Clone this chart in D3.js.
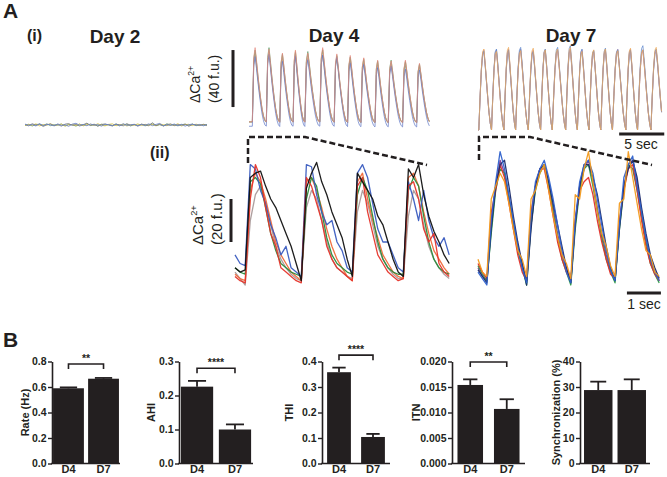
<!DOCTYPE html>
<html><head><meta charset="utf-8">
<script src="https://cdn.jsdelivr.net/npm/d3@7"></script>
<style>
body{margin:0;background:#fff}
svg{display:block;font-family:Arial,"Liberation Sans",Helvetica,sans-serif}
</style>
</head><body>
<svg id="fig" width="667" height="477"></svg>
<script>
// ================= DATA =================
// ---- Panel A(i): Day 2 noise traces (f.u., around baseline) ----
const day2Gray   = [0.3,-0.6,0.9,-0.2,0.5,-1.0,0.2,0.7,-0.4,0.3,-0.8,0.6,1.0,-0.3,0.4,-0.7,0.2,1.3,-0.3,0.6,-0.9,0.3,0.8,-0.1,-0.7,0.5,0.2,-0.6,0.9,-0.2,0.3,-0.8,0.6,0.1,-0.5,1.6,-0.4,0.5,-0.7,0.2,0.8,-0.5,0.3,-0.2,0.7,-0.9,0.4,0.1,-0.4,0.5,-0.2];
const day2Yellow = [-0.4,0.5,-0.2,0.8,-0.6,0.3,-0.1,0.9,-0.5,0.2,0.6,-0.8,0.1,0.4,-0.3,0.7,-0.6,0.2,0.5,-0.4,0.9,-0.2,-0.6,0.4,0.8,-0.5,0.1,0.6,-0.7,0.3,-0.2,0.8,-0.4,0.5,-0.1,0.3,-0.6,0.7,0.2,-0.5,0.4,-0.3,0.9,-0.7,0.2,0.5,-0.4,0.6,-0.2,0.3,-0.5];
const day2Blue   = [0.6,-0.2,0.3,-0.7,0.9,-0.4,0.5,0.1,-0.6,0.8,-0.3,0.2,-0.9,0.6,1.2,-0.2,0.4,-0.5,0.7,-0.1,0.3,-0.8,0.5,0.2,-0.4,0.6,-0.7,0.9,-0.3,0.1,0.5,-0.6,0.3,-0.2,0.8,-0.5,0.4,1.1,-0.6,0.2,-0.3,0.7,-0.4,0.5,-0.8,0.3,0.6,-0.2,0.4,-0.6,0.2];
const day2Green  = [-0.2,0.4,-0.7,0.3,0.6,-0.3,0.8,-0.5,0.2,-0.1,0.7,-0.6,0.4,0.2,-0.8,0.5,-0.2,0.9,-0.4,0.3,-0.6,0.6,-0.1,0.4,-0.5,0.8,-0.3,0.2,0.6,-0.7,0.4,-0.2,0.5,-0.6,0.3,0.7,-0.4,0.2,-0.5,0.9,-0.2,0.4,-0.6,0.3,0.5,-0.3,0.7,-0.5,0.2,-0.1,0.4];
const day2Duration = 20.2; // sec

// ---- Panel A(i): Day 4 & Day 7 long recordings ----
const day4Onsets = [0.37,1.92,3.41,4.89,6.19,7.85,9.44,10.93,12.41,13.97,15.44,17.03,18.59]; // sec
const day7Onsets = [0.09,1.50,2.87,4.17,5.58,6.94,8.24,9.72,11.02,12.31,13.61,14.91,16.39,17.69,19.17];
const longDuration = 20.4; // sec
const day4BeatShape = [3,48,55,46,36,27,19,12,7,4];   // f.u. across one beat
const day7BeatShape = [0,24,44,56,58,48,36,24,13,5];
const day4AmpRed    = [1.0,0.98,0.93,0.96,0.93,1.0,0.92,0.9,0.87,0.84,0.83,0.84,0.8];
const day4AmpBlue   = [0.94,0.97,0.88,0.95,0.9,0.96,0.93,0.86,0.84,0.8,0.82,0.78,0.77];
const day4AmpGreen  = [0.97,1.0,0.92,0.94,0.95,0.97,0.9,0.88,0.85,0.83,0.84,0.82,0.79];
const day4AmpGray   = [0.9,0.92,0.86,0.88,0.87,0.9,0.86,0.83,0.8,0.78,0.78,0.77,0.75];
const day4AmpOrange = [0.96,0.95,0.9,0.97,0.92,0.98,0.89,0.87,0.86,0.82,0.8,0.83,0.78];
const day7AmpOrange = [0.98,0.95,1.0,0.96,0.99,0.97,0.98,1.0,0.95,0.97,0.98,0.96,0.99,0.97,1.0];
const day7AmpBlue   = [0.96,0.98,0.97,1.0,0.95,0.98,1.0,1.02,0.98,0.96,0.99,0.97,0.97,1.02,0.98];
const day7AmpGray   = [0.95,0.96,0.94,0.97,0.96,0.95,0.97,0.96,0.94,0.96,0.95,0.96,0.95,0.96,0.95];
const day7AmpPink   = [0.97,0.94,0.98,0.95,0.97,0.96,0.95,0.98,0.97,0.94,0.97,0.95,0.98,0.95,0.97];
const day7AmpPurple = [0.94,0.97,0.96,0.98,0.94,0.97,0.96,0.97,0.96,0.95,0.96,0.98,0.96,0.97,0.96];

// ---- Panel A(ii): zoomed traces (f.u.), sampled every 0.15 s (Day 4) and 0.13 s (Day 7) ----
const day4Step = 0.15, day7Step = 0.13;
const day4Black  = [8,6,7, 50,52,53,46,40,36,30,24,18,10,2, 45,52,57,48,42,34,28,22,12,4, 52,48,44,40,32,28,20,12,6,4, 54,50,56,42,32,25,20,14,10];
const day4Blue   = [14,10,9, 56,54,44,38,28,22,14,18,8,6,4, 56,55,42,34,28,30,20,16,8,6, 52,56,50,38,26,20,20,14,8,6, 48,40,30,44,30,22,18,22,14];
const day4Red    = [4,2,1, 40,56,50,36,24,18,8,6,4,2,1, 50,46,38,30,18,12,8,6,4,2, 46,50,34,24,14,10,6,4,2,3, 46,48,40,26,20,24,10,6,4];
const day4Green  = [8,6,5, 48,50,47,36,24,16,10,8,6,5,4, 40,50,46,34,22,14,10,8,6,5, 42,50,44,32,20,12,8,6,5,5, 44,50,46,32,20,12,8,6,5];
const day4Gray   = [6,3,0, 30,42,46,38,28,18,12,8,5,3,2, 36,44,40,30,20,12,8,6,4,3, 34,44,38,28,18,12,8,5,3,3, 32,44,40,28,18,12,8,5,3];
const day4Orange = [5,3,2, 44,52,48,40,30,20,14,10,6,4,2, 48,50,44,36,26,18,12,8,4,2, 48,52,40,30,22,14,10,6,4,3, 50,52,46,34,24,16,12,8,5];
const day7Orange = [12,6, 4,40,46,52,48,38,26,16,12, 4,40,44,52,56,44,32,22,14,10, 3,42,40,54,62,48,34,24,18,9, 4,38,40,62,50,38,26,16,14,6, 4];
const day7Blue   = [6,3, 0,30,48,62,54,42,30,18,8, 1,32,48,54,58,50,40,28,16,6, 1,30,48,56,58,52,40,28,16,7, 2,28,50,56,60,46,34,22,12,6, 2];
const day7Navy   = [7,4, 1,26,46,56,58,46,32,20,10, 0,26,46,54,56,48,38,28,18,8, 1,28,46,56,56,50,42,30,18,8, 2,26,46,54,58,50,36,24,14,8, 3];
const day7Green  = [9,5, 2,24,44,54,52,40,28,16,8, 0,28,44,52,56,46,34,22,12,6, 0,26,44,54,56,46,34,22,12,6, 1,26,44,56,54,44,32,20,10,5, 1];
const day7Red    = [10,6, 3,34,44,56,50,38,26,14,6, 2,34,46,54,54,44,32,20,12,6, 2,30,44,48,50,42,30,20,12,5, 3,30,44,54,56,44,30,18,10,5, 2];
const day7Purple = [8,4, 2,28,46,58,52,40,30,18,10, 2,28,46,54,56,48,36,24,14,8, 2,30,46,54,58,48,36,24,14,7, 2,28,46,56,58,48,34,22,12,6, 2];

// ---- Panel B: bar charts (mean, SEM) ----
const barCategories = ["D4","D7"];
const rateMean = [0.59, 0.665],   rateSEM = [0.007, 0.006];
const ahiMean  = [0.226, 0.100],  ahiSEM  = [0.017, 0.015];
const thiMean  = [0.358, 0.104],  thiSEM  = [0.018, 0.012];
const itnMean  = [0.0154, 0.0107],itnSEM  = [0.0011, 0.0019];
const syncMean = [28.8, 28.8],    syncSEM = [3.3, 4.2];
const rateTicks = [0,0.2,0.4,0.6,0.8];
const ahiTicks  = [0,0.1,0.2,0.3];
const thiTicks  = [0,0.1,0.2,0.3,0.4];
const itnTicks  = [0,0.005,0.010,0.015,0.020];
const syncTicks = [0,10,20,30,40];
const yTitles = ["Rate (Hz)","AHI","THI","ITN","Synchronization (%)"];
const sigStars  = ["**","****","****","**",null];
const sigLevels = [0.78, 0.28, 0.425, 0.0199, null];

// ================= DRAWING =================
const svg = d3.select("#fig");
const ink = "#231f20";

function beatTrace(onsets, end, shape, amps, base){
  const pts = [[0, shape[0]*amps[0] + base]];
  onsets.forEach((t0,b)=>{
    const period = b < onsets.length-1 ? onsets[b+1]-t0 : t0-onsets[b-1];
    shape.forEach((v,j)=>{
      const t = t0 + j*period/shape.length;
      if (t <= end) pts.push([t, v*amps[b] + base]);
    });
  });
  return pts;
}
function drawLine(pts, xs, ys, color, w, op){
  svg.append("path").datum(pts)
    .attr("d", d3.line().x(d=>xs(d[0])).y(d=>ys(d[1])))
    .attr("fill","none").attr("stroke",color).attr("stroke-width",w)
    .attr("stroke-opacity",op).attr("stroke-linejoin","round");
}
function text(x,y,str,size,weight,anchor){
  return svg.append("text").attr("x",x).attr("y",y).text(str)
    .attr("font-size",size).attr("font-weight",weight||"normal")
    .attr("text-anchor",anchor||"start").attr("fill",ink);
}

// Panel labels
text(3,18,"A",21,"bold");
text(27,41,"(i)",16,"bold");
text(150,158,"(ii)",16,"bold");
text(115,43,"Day 2",19,"bold","middle");
text(334,42,"Day 4",19,"bold","middle");
text(571,42,"Day 7",19,"bold","middle");
text(3,347,"B",21,"bold");

// --- (i) scales ---
const xDay2 = d3.scaleLinear().domain([0, day2Duration]).range([25, 207]);
const yI = base => d3.scaleLinear().domain([0, 40]).range([base, base-57]);
const yDay2 = yI(125);
[[day2Green,"#6f9f70"],[day2Yellow,"#d6bf3c"],[day2Gray,"#7e7e7e"],[day2Blue,"#6a82c8"]].forEach(([arr,c])=>{
  const pts = arr.map((v,i)=>[i*day2Duration/(arr.length-1), v]);
  drawLine(pts, xDay2, yDay2, c, 1, 0.85);
});

const xD4i = d3.scaleLinear().domain([0, longDuration]).range([249, 433]);
const yD4i = yI(126);
[[day4AmpGray,"#a89e9e",0],[day4AmpOrange,"#e2ad86",0],[day4AmpGreen,"#5e9a66",0],[day4AmpBlue,"#6078c6",-3],[day4AmpRed,"#e48a80",0]].forEach(([amps,c,b])=>{
  drawLine(beatTrace(day4Onsets,longDuration,day4BeatShape,amps,b), xD4i, yD4i, c, 0.9, 0.8);
});
const xD7i = d3.scaleLinear().domain([0, longDuration]).range([478, 662]);
const yD7i = yI(130);
[[day7AmpGray,"#9a9a9a"],[day7AmpPurple,"#a088b4"],[day7AmpPink,"#dc9aa8"],[day7AmpBlue,"#5a84cc"],[day7AmpOrange,"#eeaa58"]].forEach(([amps,c])=>{
  drawLine(beatTrace(day7Onsets,longDuration,day7BeatShape,amps,0), xD7i, yD7i, c, 0.9, 0.8);
});

// 40 f.u. scale bar and label
svg.append("line").attr("x1",233).attr("x2",233).attr("y1",yD4i(13.3)).attr("y2",yD4i(53.3))
  .attr("stroke",ink).attr("stroke-width",3);
function caLabel(bx, by, scaleTxt, size){
  const t1 = svg.append("text").attr("transform",`translate(${bx},${by}) rotate(-90)`)
    .attr("font-size",size).attr("fill",ink);
  t1.append("tspan").text("ΔCa");
  t1.append("tspan").text("2+").attr("font-size",size*0.62).attr("dy",-size*0.42);
  svg.append("text").attr("transform",`translate(${bx+19},${by}) rotate(-90)`)
    .attr("font-size",size).attr("fill",ink).text(scaleTxt);
}
caLabel(200,103,"(40 f.u.)",14);

// 5 sec bar
svg.append("line").attr("x1",xD7i(15.65)).attr("x2",xD7i(20.65)).attr("y1",134).attr("y2",134)
  .attr("stroke",ink).attr("stroke-width",3);
text(641,149,"5 sec",14,"normal","middle");

// --- (ii) zoomed ---
const xD4ii = d3.scaleLinear().domain([0, 1]).range([235, 269]);
const xD7ii = d3.scaleLinear().domain([0, 1]).range([478, 512]);
const yII = d3.scaleLinear().domain([0, 20]).range([285, 242]);
[[day4Gray,"#ab9a9a"],[day4Orange,"#f06a3a"],[day4Green,"#2a8c3c"],[day4Blue,"#3a5cc0"],[day4Red,"#e6342a"],[day4Black,"#111111"]].forEach(([arr,c])=>{
  drawLine(arr.map((v,i)=>[i*day4Step, v]), xD4ii, yII, c, 1.3, 0.95);
});
[[day7Purple,"#7c3f9c"],[day7Green,"#2b9a48"],[day7Red,"#e0302a"],[day7Navy,"#1c2b6b"],[day7Blue,"#2f62cc"],[day7Orange,"#f29a1c"]].forEach(([arr,c])=>{
  drawLine(arr.map((v,i)=>[i*day7Step, v]), xD7ii, yII, c, 1.3, 0.95);
});
// 20 f.u. bar
svg.append("line").attr("x1",231).attr("x2",231).attr("y1",yII(20)).attr("y2",yII(40))
  .attr("stroke",ink).attr("stroke-width",3);
caLabel(203,245,"(20 f.u.)",15);
// 1 sec bar
svg.append("line").attr("x1",xD7ii(4.38)).attr("x2",xD7ii(5.38)).attr("y1",293).attr("y2",293)
  .attr("stroke",ink).attr("stroke-width",3);
text(644,309,"1 sec",14,"normal","middle");

// dashed zoom connectors (annotation)
const dashPaths = [
  [[248,163],[248,137],[305,137],[427,165]],
  [[479,160],[479,137],[530,137],[652,165]]
];
dashPaths.forEach(p=>{
  svg.append("path").attr("d",d3.line()(p)).attr("fill","none")
    .attr("stroke",ink).attr("stroke-width",2.5).attr("stroke-dasharray","6,3");
});

// --- Panel B ---
const charts = [
  {mean:rateMean, sem:rateSEM, ticks:rateTicks, max:0.8,  fmt:d3.format(".1f"), x0:52,  x1:120, pi:0.12, po:0.03, lx:29},
  {mean:ahiMean,  sem:ahiSEM,  ticks:ahiTicks,  max:0.3,  fmt:d3.format(".1f"), x0:179, x1:253, pi:0.15, po:0.05, lx:155},
  {mean:thiMean,  sem:thiSEM,  ticks:thiTicks,  max:0.4,  fmt:d3.format(".1f"), x0:322, x1:390, pi:0.3,  po:0.15, lx:293},
  {mean:itnMean,  sem:itnSEM,  ticks:itnTicks,  max:0.02, fmt:d3.format(".3f"), x0:452, x1:525, pi:0.3,  po:0.15, lx:420},
  {mean:syncMean, sem:syncSEM, ticks:syncTicks, max:40,   fmt:d3.format("d"),   x0:580, x1:650, pi:0.15, po:0.12, lx:560}
];
charts.forEach((c,ci)=>{
  const y = d3.scaleLinear().domain([0,c.max]).range([463.5,361.5]);
  const x = d3.scaleBand().domain(barCategories).range([c.x0,c.x1]).paddingInner(c.pi).paddingOuter(c.po);
  const g = svg.append("g");
  const bw = x.bandwidth();
  g.selectAll("rect").data(c.mean).join("rect")
    .attr("x",(d,i)=>x(barCategories[i])).attr("y",d=>y(d))
    .attr("width",bw).attr("height",d=>y(0)-y(d)).attr("fill",ink);
  c.mean.forEach((m,i)=>{
    const cx = x(barCategories[i]) + bw/2;
    g.append("line").attr("x1",cx).attr("x2",cx).attr("y1",y(m)).attr("y2",y(m+c.sem[i]))
      .attr("stroke",ink).attr("stroke-width",1.8);
    g.append("line").attr("x1",cx-bw*0.28).attr("x2",cx+bw*0.28).attr("y1",y(m+c.sem[i])).attr("y2",y(m+c.sem[i]))
      .attr("stroke",ink).attr("stroke-width",1.8);
    g.append("text").attr("x",cx).attr("y",472.5).attr("text-anchor","middle")
      .attr("font-size",11).attr("font-weight","bold").attr("fill",ink).text(barCategories[i]);
  });
  const ax = g.append("g").attr("transform",`translate(${c.x0},0)`)
    .call(d3.axisLeft(y).tickValues(c.ticks).tickFormat(c.fmt).tickSize(4).tickSizeOuter(0).tickPadding(1.5));
  ax.attr("font-family",null).attr("font-size",null);
  ax.select(".domain").attr("stroke",ink).attr("stroke-width",1.6);
  ax.selectAll(".tick line").attr("stroke",ink).attr("stroke-width",1.4);
  ax.selectAll(".tick text").attr("fill",ink).attr("font-size",10.5).attr("font-weight","bold");
  g.append("line").attr("x1",c.x0-0.8).attr("x2",c.x1).attr("y1",463.5).attr("y2",463.5)
    .attr("stroke",ink).attr("stroke-width",1.6);
  g.append("text").attr("transform",`translate(${c.lx},412.5) rotate(-90)`)
    .attr("text-anchor","middle").attr("font-size",11).attr("font-weight","bold").attr("fill",ink)
    .text(yTitles[ci]);
  if (sigStars[ci]) {
    const xa = x(barCategories[0]) + bw/2, xb = x(barCategories[1]) + bw/2;
    const ys = y(sigLevels[ci]);
    g.append("path").attr("d",d3.line()([[xa,ys+5],[xa,ys],[xb,ys],[xb,ys+5]]))
      .attr("fill","none").attr("stroke",ink).attr("stroke-width",1.6);
    g.append("text").attr("x",(xa+xb)/2).attr("y",ys-2.5).attr("text-anchor","middle")
      .attr("font-size",10.5).attr("font-weight","bold").attr("fill",ink).text(sigStars[ci]);
  }
});
</script>
</body></html>
